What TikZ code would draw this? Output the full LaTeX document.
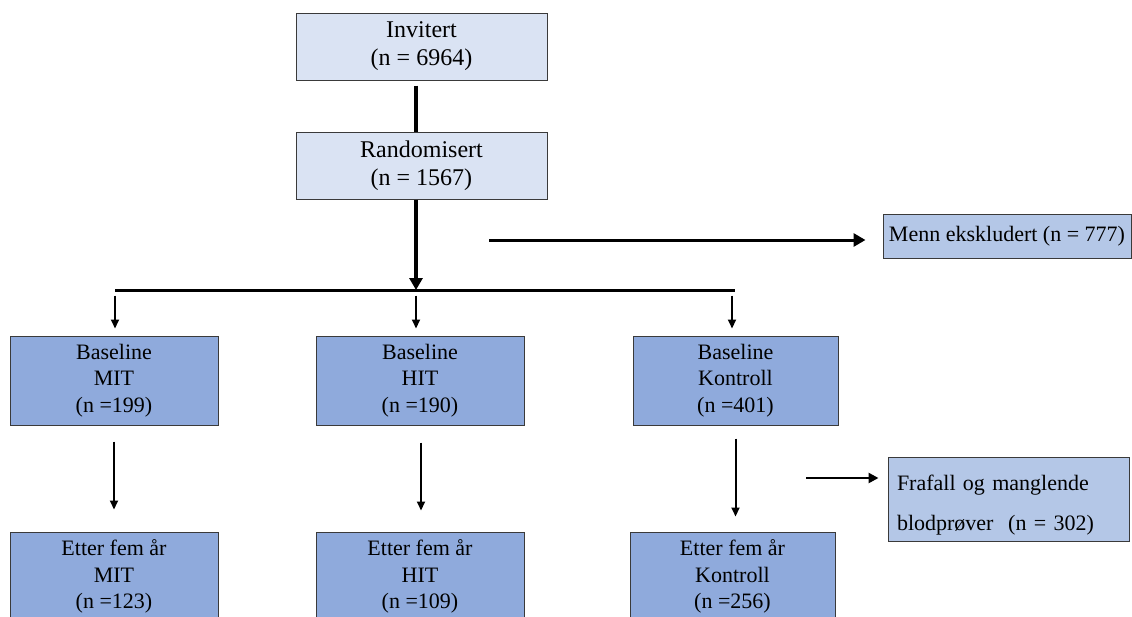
\documentclass[tikz,border=0pt]{standalone}
\usepackage{fontspec}
\setmainfont{Liberation Serif}
\usepackage{xcolor}
\usepackage{tikz}
\usetikzlibrary{arrows.meta, positioning, calc}
\definecolor{frLight}{HTML}{DAE3F3}
\definecolor{frMid}{HTML}{B4C7E7}
\definecolor{frDark}{HTML}{8FAADC}
\definecolor{frEdge}{HTML}{3A3A3A}
\tikzset{
  frnode/.style={
    draw=frEdge, line width=1pt, align=center, inner sep=0pt,
    font=\fontsize{22}{26.7}\selectfont
  },
  topbox/.style={frnode, fill=frLight, minimum width=251pt, minimum height=67pt,
    font=\fontsize{24}{28}\selectfont},
  armbox/.style={frnode, fill=frDark, minimum width=208pt, minimum height=89pt,
    execute at begin node=\rule{0pt}{21pt}},
  exbox/.style={frnode, fill=frMid},
  mainline/.style={line width=3.5pt},
  barline/.style={line width=3pt},
  mainarrow/.style={line width=3.5pt, -{Triangle[length=12pt, width=13pt]}},
  midarrow/.style={line width=2.6pt, -{Triangle[length=10pt, width=10pt]}},
  smallarrow/.style={line width=2pt, -{Triangle[length=9pt, width=8pt]}}
}
\begin{document}
\begin{tikzpicture}[x=1pt, y=-1pt]
  \clip (0,0) rectangle (1132,616);
  \node[topbox] (inv) at (421.5,46.5) {Invitert\\(n = 6964)};
  \node[topbox] (rand) at (421.5,165.5) {Randomisert\\(n = 1567)};
  \coordinate (spine) at (416,0);
  \coordinate (barL) at (115,290);
  \coordinate (barR) at (735,290);
  \node[exbox, minimum width=248pt, minimum height=44pt] (menn) at (1007,236) {Menn ekskludert (n = 777)};
  \coordinate (mennfrom) at (489,240);
  % baseline
  \node[armbox] (bmit) at (114,380.5) {Baseline\\MIT\\(n =199)};
  \node[armbox] (bhit) at (420,380.5) {Baseline\\HIT\\(n =190)};
  \node[armbox, minimum width=205pt] (bkon) at (735.5,380.5) {Baseline\\Kontroll\\(n =401)};
  % etter fem aar
  \node[armbox] (emit) at (114,576.5) {Etter fem år\\MIT\\(n =123)};
  \node[armbox] (ehit) at (420,576.5) {Etter fem år\\HIT\\(n =109)};
  \node[armbox, minimum width=205pt] (ekon) at (732.5,576.5) {Etter fem år\\Kontroll\\(n =256)};
  \node[exbox, align=left, text width=223pt, inner xsep=9pt, minimum height=84pt,
    font=\fontsize{22}{40}\selectfont] (fraf) at (1008.5,499) {\rule{0pt}{28pt}Frafall og manglende\\blodprøver\ \ (n = 302)};
  \coordinate (frafrom) at (806,478);

  \draw[mainline, shorten <=5pt] (inv.south -| spine) -- (rand.north -| spine);
  \draw[mainarrow] (rand.south -| spine) -- (spine |- barL);
  \draw[barline] (barL) -- (barR);
  \draw[mainarrow, line width=3pt, shorten >=17pt] (mennfrom) -- (mennfrom -| menn.west);
  \foreach \b/\dx in {bmit/1, bhit/-4, bkon/-3.5}{
    \draw[smallarrow] ([xshift=\dx pt, yshift=40pt]\b.north) -- ([xshift=\dx pt, yshift=7pt]\b.north);
  }
  \foreach \a/\b/\dx/\s/\e in {bmit/emit/0/16/22, bhit/ehit/1/17/21, bkon/ekon/0/13/15}{
    \draw[smallarrow, shorten <=\s pt, shorten >=\e pt] ([xshift=\dx pt]\a.south) -- ([xshift=\dx pt]\a.south |- \b.north);
  }
  \draw[midarrow, shorten >=9pt] (frafrom) -- (frafrom -| fraf.west);
\end{tikzpicture}
\end{document}
